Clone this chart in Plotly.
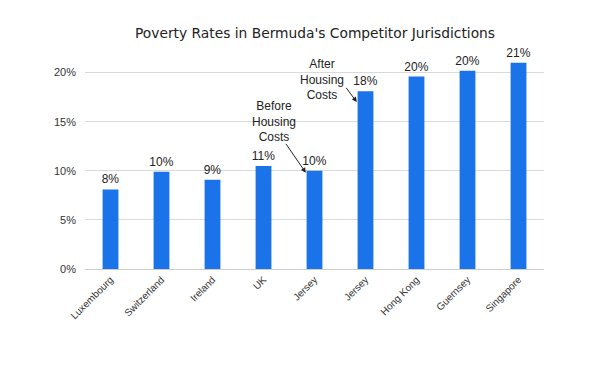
import plotly.graph_objects as go

categories = ["Luxembourg", "Switzerland", "Ireland", "UK", "Jersey", "Jersey",
              "Hong Kong", "Guernsey", "Singapore"]
values = [8.1, 9.9, 9.1, 10.5, 10.0, 18.1, 19.6, 20.2, 21.0]
labels = ["8%", "10%", "9%", "11%", "10%", "18%", "20%", "20%", "21%"]
y_ticks = [0, 5, 10, 15, 20]
y_tick_labels = ["0%", "5%", "10%", "15%", "20%"]

FONT = "Liberation Sans"
x_idx = list(range(len(categories)))

fig = go.Figure()
fig.add_trace(go.Bar(
    x=x_idx, y=values, text=labels, textposition="outside",
    constraintext="none",
    textfont=dict(family=FONT, size=12, color="#222222"),
    marker=dict(color="#1a73e8", line=dict(width=0)),
    cliponaxis=False, hoverinfo="skip",
))

fig.update_layout(
    width=605, height=382,
    margin=dict(l=77, r=69, t=45, b=121, autoexpand=False),
    paper_bgcolor="white", plot_bgcolor="white",
    bargap=0.69,
    showlegend=False,
    title=dict(text="Poverty Rates in Bermuda's Competitor Jurisdictions",
               x=307 / 605, xanchor="center", y=1 - 25 / 382, yanchor="middle",
               xref="container", yref="container",
               font=dict(family="DejaVu Sans", size=13.8, color="#222222")),
    xaxis=dict(tickmode="array", tickvals=x_idx, ticktext=categories,
               tickangle=-45, range=[-0.5, 8.5], automargin=False,
               tickfont=dict(family=FONT, size=10, color="#333333"),
               showgrid=False, zeroline=False, showline=True,
               linecolor="#cccccc", linewidth=1, ticks=""),
    yaxis=dict(range=[0, 22], tickvals=y_ticks, ticktext=y_tick_labels,
               automargin=False,
               tickfont=dict(family=FONT, size=11, color="#333333"),
               showgrid=True, gridcolor="#d9d9d9", gridwidth=1,
               zeroline=False, showline=False, ticks="",
               ticklabelstandoff=8),
)

ann_font = dict(family=FONT, size=12, color="#222222")
fig.add_annotation(x=3.21, y=15.0, xref="x", yref="y",
                   text="Before<br>Housing<br>Costs", showarrow=False,
                   font=ann_font, align="center")
fig.add_annotation(x=3.83, y=9.8, ax=3.42, ay=12.9, xref="x", yref="y",
                   axref="x", ayref="y", text="", showarrow=True,
                   arrowhead=2, arrowsize=1, arrowwidth=1, arrowcolor="#222222")
fig.add_annotation(x=4.14, y=19.3, xref="x", yref="y",
                   text="After<br>Housing<br>Costs", showarrow=False,
                   font=ann_font, align="center")
fig.add_annotation(x=4.83, y=17.0, ax=4.60, ay=18.6, xref="x", yref="y",
                   axref="x", ayref="y", text="", showarrow=True,
                   arrowhead=2, arrowsize=1, arrowwidth=1, arrowcolor="#222222")

fig.write_html("out.html")
